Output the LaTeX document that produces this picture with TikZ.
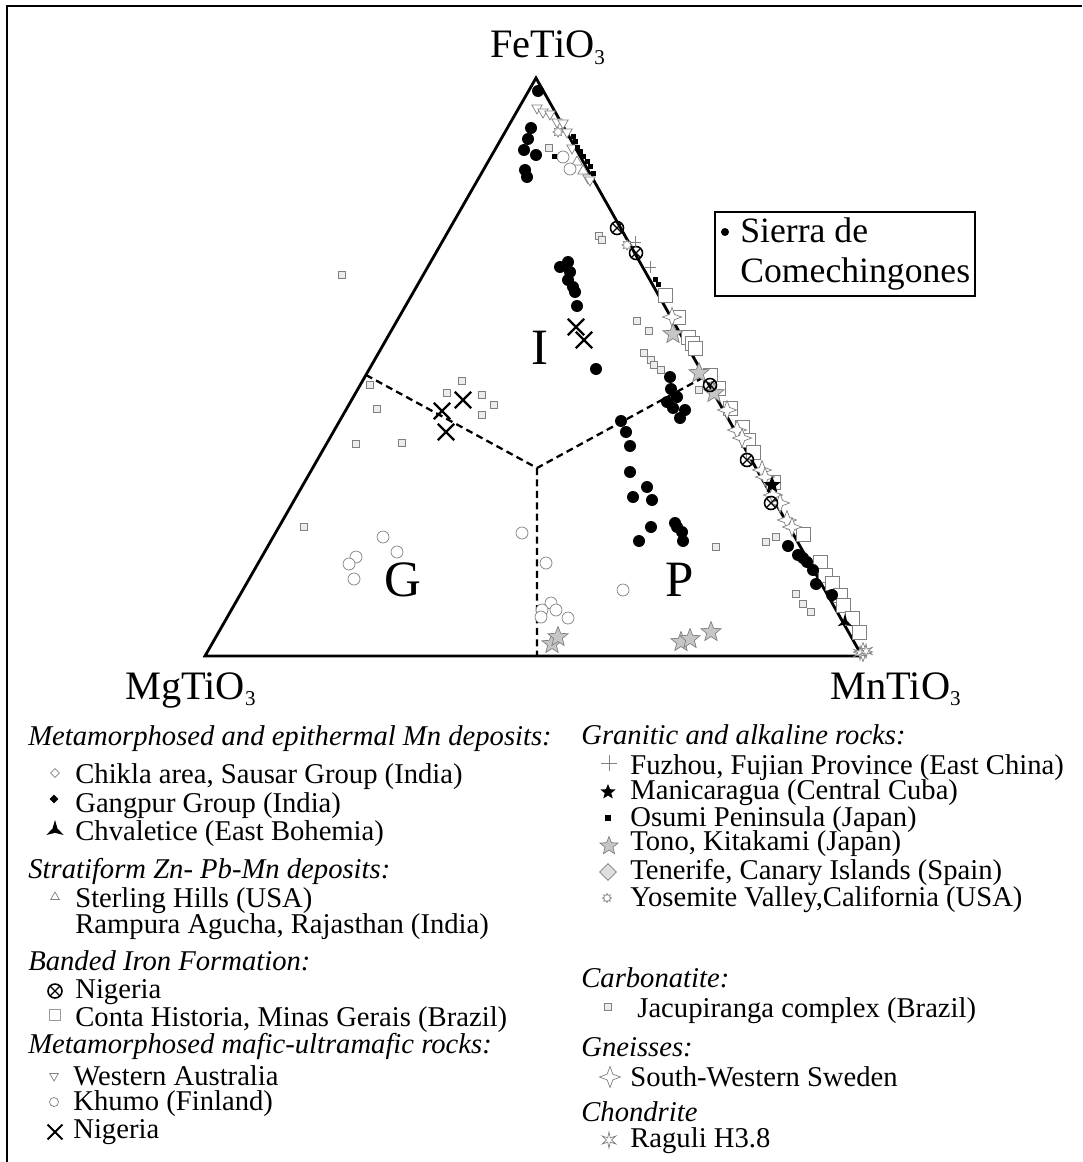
\documentclass[tikz,border=0pt]{standalone}
\usepackage{fontspec}
\setmainfont{Liberation Serif}
\usetikzlibrary{shapes.geometric,shapes.misc}

\newcommand{\sub}[1]{\raisebox{-0.35ex}{\fontsize{12}{13}\selectfont #1}}

\begin{document}
\begin{tikzpicture}[x=0.02cm,y=-0.02cm,
	sdot/.style={circle,fill=black,inner sep=0,minimum size=0.24cm},
	khumo/.style={circle,draw=gray,fill=white,inner sep=0,minimum size=0.24cm},
	conta/.style={rectangle,draw=gray,fill=white,inner sep=0,minimum size=0.28cm},
	jacu/.style={rectangle,draw=gray,fill=gray!15,inner sep=0,minimum size=0.15cm},
	osumi/.style={rectangle,fill=black,inner sep=0,minimum size=0.1cm},
	xnig/.style={cross out,draw=black,line width=1.3pt,inner sep=0,minimum size=0.28cm},
	bifnig/.style={circle,draw=black,line width=0.9pt,inner sep=0,minimum size=0.26cm,
		path picture={\draw[line width=0.7pt] (path picture bounding box.north west)--(path picture bounding box.south east)
			(path picture bounding box.north east)--(path picture bounding box.south west);}},
	tono/.style={star,star points=5,star point ratio=2.3,draw=gray,fill=gray!45,inner sep=0,minimum size=0.42cm},
	sweden/.style={star,star points=4,star point ratio=2.6,draw=gray,fill=white,inner sep=0,minimum size=0.38cm},
	manic/.style={star,star points=5,star point ratio=2.3,fill=black,inner sep=0,minimum size=0.36cm},
	wau/.style={regular polygon,regular polygon sides=3,shape border rotate=180,draw=gray,fill=white,inner sep=0,minimum size=0.24cm},
	sterl/.style={regular polygon,regular polygon sides=3,draw=gray,fill=white,inner sep=0,minimum size=0.24cm},
	fuzhou/.style={cross out,rotate=45,draw=gray,inner sep=0,minimum size=0.16cm},
	yosem/.style={star,star points=8,star point ratio=1.6,draw=gray,fill=white,inner sep=0,minimum size=0.2cm},
	ragul/.style={star,star points=6,star point ratio=3.2,draw=gray,fill=white,inner sep=0,minimum size=0.28cm},
	chval/.style={star,star points=3,star point ratio=3.5,fill=black,inner sep=0,minimum size=0.34cm},
	chikla/.style={diamond,draw=gray,fill=white,inner sep=0,minimum size=0.18cm},
	gangp/.style={diamond,fill=black,inner sep=0,minimum size=0.18cm},
	tener/.style={diamond,draw=gray,fill=gray!25,inner sep=0,minimum size=0.34cm},
	lab/.style={font=\fontsize{16.3}{18}\selectfont,anchor=base west,inner sep=0},
	hdr/.style={font=\fontsize{16.3}{18}\selectfont\itshape,anchor=base west,inner sep=0},
	apex/.style={font=\fontsize{23}{26}\selectfont,anchor=base west,inner sep=0},
	field/.style={font=\fontsize{29}{32}\selectfont,inner sep=0}]
	\useasboundingbox (0,0) rectangle (1082,1162);
	\draw[line width=1.4pt] (7,1162) -- (7,6) -- (1082,6);

	% ternary frame and fields
	\coordinate (mg) at (205,656);
	\coordinate (mn) at (862,656);
	\coordinate (fe) at (536,78);
	\coordinate (ctr) at (537,468);
	\coordinate (dl) at (366,375);
	\coordinate (dr) at (704,377);
	\coordinate (db) at (537,656);
	\draw[line width=1.6pt] (mg) -- (mn) -- (fe) -- cycle;
	\draw[line width=1.3pt,dash pattern=on 4pt off 2.5pt] (dl) -- (ctr) -- (dr) (ctr) -- (db);
	\node[apex] (fel) at (490,58) {FeTiO\sub{3}};
	\node[apex] (mgl) at (125,699) {MgTiO\sub{3}};
	\node[apex] (mnl) at (830,699) {MnTiO\sub{3}};
	\node[field] (fi) at (540,348) {I};
	\node[field] (fg) at (403,580) {G};
	\node[field] (fp) at (680,580) {P};

	% data
	\foreach \x/\y [count=\k] in {665/295,678/317,688/337,692/343,695/348,710/375,718/388,730/408,742/427,748/440,753/452,773/482,
		803/534,820/562,825/575,832/583,840/595,843/605,852/618,859/632}
		\node[conta] (ch\k) at (\x,\y) {};
	\foreach \x/\y [count=\k] in {370/385,377/409,356/444,402/443,447/393,462/381,482/395,494/405,482/415,304/527,342/275,549/148,
		599/236,602/240,637/321,649/331,644/353,651/360,654/365,661/370,699/390,716/547,766/542,776/537,796/594,803/604,811/612}
		\node[jacu] (jc\k) at (\x,\y) {};
	\foreach \x/\y [count=\k] in {537/108,543/112,550/114,557/122,563/123,567/132,572/148,588/178,590/180}
		\node[wau] (wa\k) at (\x,\y) {};
	\foreach \x/\y [count=\k] in {577/162,583/171}
		\node[sterl] (sh\k) at (\x,\y) {};
	\foreach \x/\y [count=\k] in {383/537,397/552,356/557,349/564,354/579,522/533,546/563,623/590,551/603,542/610,556/610,541/617,568/618,563/157,570/169}
		\node[khumo] (kh\k) at (\x,\y) {};
	\foreach \x/\y [count=\k] in {573/137,575/142,577/148,580/152,583/157,587/162,590/167,593/174,655/279,658/284,554/157}
		\node[osumi] (os\k) at (\x,\y) {};
	\foreach \x/\y [count=\k] in {672/317,727/410,737/430,742/438,762/470,765/477,773/495,780/503,787/520,792/527,863/652}
		\node[sweden] (sw\k) at (\x,\y) {};
	\foreach \x/\y [count=\k] in {552/644,558/637,681/642,690/639,711/632,673/334,699/373,714/393}
		\node[tono] (to\k) at (\x,\y) {};
	\foreach \x/\y [count=\k] in {617/228,636/253,710/385,747/460,771/503}
		\node[bifnig] (bi\k) at (\x,\y) {};
	\foreach \x/\y [count=\k] in {635/242,650/267}
		\node[fuzhou] (fz\k) at (\x,\y) {};
	\foreach \x/\y [count=\k] in {627/245,558/132}
		\node[yosem] (yv\k) at (\x,\y) {};
	\foreach \x/\y [count=\k] in {860/653,866/651}
		\node[ragul] (rg\k) at (\x,\y) {};
	\node[manic] (mc1) at (772,485) {};
	\node[chval] (cv1) at (845,622) {};
	\foreach \x/\y [count=\k] in {576/327,584/340,442/411,463/400,446/432}
		\node[xnig] (xn\k) at (\x,\y) {};
	\foreach \x/\y [count=\k] in {538/91,531/128,528/139,524/150,536/155,525/170,527/177,
		560/267,568/262,570/272,568/280,573/287,575/292,577/306,596/369,
		670/377,671/389,677/397,667/402,673/408,685/410,680/418,
		621/421,626/432,630/446,630/472,633/497,647/487,652/500,651/527,639/541,675/523,677/527,682/532,683/541,
		788/546,798/555,803/558,807/562,813/570,816/584,832/595}
		\node[sdot] (sc\k) at (\x,\y) {};

	% Sierra de Comechingones box
	\node[draw,line width=1.2pt,anchor=north west,minimum width=5.2cm,minimum height=1.68cm,inner sep=0] (sbox) at (714,211) {};
	\node[circle,fill=black,inner sep=0,minimum size=0.16cm] (sbul) at (725,232) {};
	\node[lab,font=\fontsize{20.3}{22}\selectfont] (sier) at (740,242) {Sierra de};
	\node[lab,font=\fontsize{20.3}{22}\selectfont] (come) at (740,282) {Comechingones};

	% legend, left column
	\node[hdr] (h1) at (28,745) {Metamorphosed and epithermal Mn deposits:};
	\node[chikla] (m1) at (55,773) {};
	\node[lab] (t1) at (75,783) {Chikla area, Sausar Group (India)};
	\node[gangp] (m2) at (54,799) {};
	\node[lab] (t2) at (75,812) {Gangpur Group (India)};
	\node[chval,minimum size=0.4cm] (m3) at (55,830) {};
	\node[lab] (t3) at (75,840) {Chvaletice (East Bohemia)};
	\node[hdr] (h2) at (28,878) {Stratiform Zn- Pb-Mn deposits:};
	\node[sterl,minimum size=0.2cm] (m4) at (55,897) {};
	\node[lab] (t4) at (75,907) {Sterling Hills (USA)};
	\node[lab] (t5) at (75,933) {Rampura Agucha, Rajasthan (India)};
	\node[hdr] (h3) at (28,970) {Banded Iron Formation:};
	\node[bifnig,minimum size=0.28cm] (m6) at (55,991) {};
	\node[lab] (t6) at (75,998) {Nigeria};
	\node[conta,draw=gray!80,minimum size=0.22cm] (m7) at (55,1015) {};
	\node[lab] (t7) at (75,1026) {Conta Historia, Minas Gerais (Brazil)};
	\node[hdr] (h4) at (28,1053) {Metamorphosed mafic-ultramafic rocks:};
	\node[wau,minimum size=0.2cm] (m8) at (54,1076) {};
	\node[lab] (t8) at (73,1085) {Western Australia};
	\node[khumo,minimum size=0.18cm] (m9) at (54,1102) {};
	\node[lab] (t9) at (73,1110) {Khumo (Finland)};
	\node[xnig,minimum size=0.26cm,line width=1.1pt] (m10) at (55,1132) {};
	\node[lab] (t10) at (73,1138) {Nigeria};

	% legend, right column
	\node[hdr] (h5) at (581,744) {Granitic and alkaline rocks:};
	\node[fuzhou,minimum size=0.2cm] (m11) at (609,763) {};
	\node[lab] (t11) at (630,774) {Fuzhou, Fujian Province (East China)};
	\node[manic,minimum size=0.32cm] (m12) at (608,792) {};
	\node[lab] (t12) at (630,799) {Manicaragua (Central Cuba)};
	\node[osumi,minimum size=0.13cm] (m13) at (608,818) {};
	\node[lab] (t13) at (630,826) {Osumi Peninsula (Japan)};
	\node[tono,minimum size=0.38cm] (m14) at (609,846) {};
	\node[lab] (t14) at (630,850) {Tono, Kitakami (Japan)};
	\node[tener] (m15) at (608,872) {};
	\node[lab] (t15) at (630,879) {Tenerife, Canary Islands (Spain)};
	\node[yosem,minimum size=0.18cm] (m16) at (607,898) {};
	\node[lab] (t16) at (630,906) {Yosemite Valley,California (USA)};
	\node[hdr] (h6) at (581,987) {Carbonatite:};
	\node[jacu] (m17) at (608,1007) {};
	\node[lab] (t17) at (637,1017) {Jacupiranga complex (Brazil)};
	\node[hdr] (h7) at (581,1056) {Gneisses:};
	\node[sweden,minimum size=0.42cm] (m18) at (610,1077) {};
	\node[lab] (t18) at (630,1086) {South-Western Sweden};
	\node[hdr] (h8) at (581,1121) {Chondrite};
	\node[ragul,minimum size=0.32cm] (m19) at (609,1140) {};
	\node[lab] (t19) at (630,1147) {Raguli H3.8};
\end{tikzpicture}
\end{document}
